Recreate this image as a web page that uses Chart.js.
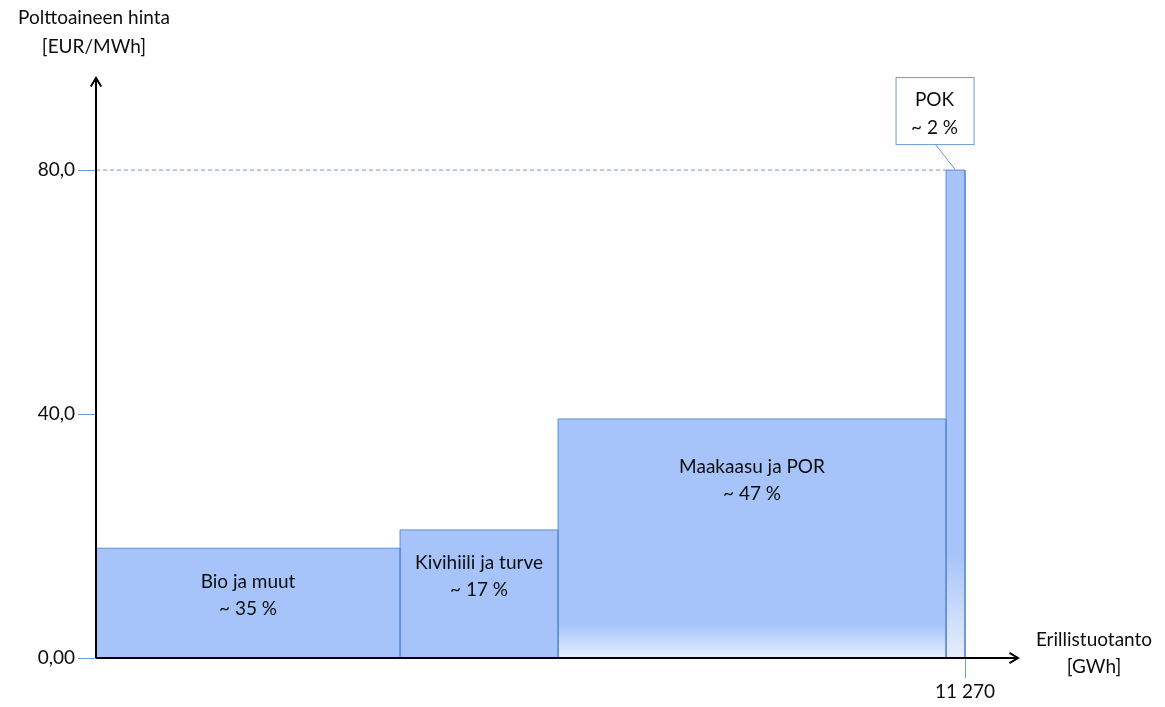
<!DOCTYPE html>
<html>
<head>
<meta charset="utf-8">
<script src="https://cdn.jsdelivr.net/npm/chart.js@4/dist/chart.umd.min.js"></script>
<style>
  html, body { margin: 0; padding: 0; background: #fff; }
  #wrap { width: 1165px; height: 707px; }
</style>
</head>
<body>
<div id="wrap"><canvas id="chart-erillistuotanto"></canvas></div>
<script>
// Polttoaineet hintajärjestyksessä, leveys = tuotanto (GWh, kumulatiivinen)
const blockNames = ['Bio ja muut', 'Kivihiili ja turve', 'Maakaasu ja POR', 'POK'];
const blockShares = ['~ 35 %', '~ 17 %', '~ 47 %', '~ 2 %'];
const blockEnds = [3943, 5992, 11024, 11270];
const blockPrices = [18.0, 21.0, 39.2, 80.0];
// mistä hinnasta alaspäin palkki haalistuu (null = tasainen väri)
const fadeFrom = [null, null, 5.5, 17];

const yTickValues = [0, 40, 80];
const yTickLabels = ['0,00', '40,0', '80,0'];
const xTickValues = [11270];
const xTickLabels = ['11 270'];

const FILL = '#a6c4f9';
const EDGE = '#5f8fd3';
const TEXT = '#0d0d0d';
const FONT = "Lato, 'Open Sans', sans-serif";
const SIZE = 19;

function blockFill(i) {
  return (context) => {
    const chart = context.chart;
    const area = chart.chartArea;
    if (!area || fadeFrom[i] === null) return FILL;
    const y = chart.scales.y;
    const g = chart.ctx.createLinearGradient(0, y.getPixelForValue(fadeFrom[i]), 0, y.getPixelForValue(0));
    g.addColorStop(0, FILL);
    g.addColorStop(1, '#e6eefd');
    return g;
  };
}

const datasets = blockNames.map((name, i) => {
  const start = i ? blockEnds[i - 1] : 0;
  const end = blockEnds[i];
  const p = blockPrices[i];
  return {
    label: name,
    data: [{x: start, y: 0}, {x: start, y: p}, {x: end, y: p}, {x: end, y: 0}],
    showLine: true,
    fill: 'origin',
    borderColor: EDGE,
    borderWidth: 1,
    backgroundColor: blockFill(i),
    pointRadius: 0,
    tension: 0
  };
});

// katkoviiva POK-hinnan tasolle
datasets.push({
  label: 'POK-taso',
  data: [{x: 0, y: blockPrices[3]}, {x: blockEnds[2], y: blockPrices[3]}],
  showLine: true,
  fill: false,
  borderColor: '#6b9ad8',
  borderWidth: 1,
  borderDash: [4, 3],
  pointRadius: 0
});

function arrow(ctx, x0, y0, x1, y1) {
  const a = Math.atan2(y1 - y0, x1 - x0);
  const s = 10;
  ctx.beginPath();
  ctx.moveTo(x0, y0);
  ctx.lineTo(x1, y1);
  ctx.moveTo(x1 - s * Math.cos(a - 0.55), y1 - s * Math.sin(a - 0.55));
  ctx.lineTo(x1, y1);
  ctx.lineTo(x1 - s * Math.cos(a + 0.55), y1 - s * Math.sin(a + 0.55));
  ctx.stroke();
}

const annotations = {
  id: 'annotations',
  afterDatasetsDraw(chart) {
    const {ctx, chartArea: area, scales: {x, y}} = chart;
    ctx.save();

    // akselit nuolineen
    ctx.strokeStyle = '#000';
    ctx.lineWidth = 2;
    ctx.lineCap = 'butt';
    arrow(ctx, area.left, area.bottom, area.left, area.top);
    arrow(ctx, area.left, area.bottom, area.right, area.bottom);

    ctx.fillStyle = TEXT;
    ctx.font = SIZE + 'px ' + FONT;
    ctx.textAlign = 'center';
    ctx.textBaseline = 'middle';

    // akselien otsikot
    ctx.fillText('Polttoaineen hinta', area.left - 2, area.top - 60);
    ctx.fillText('[EUR/MWh]', area.left - 2, area.top - 31);
    ctx.fillText('Erillistuotanto', area.right + 76, area.bottom - 18);
    ctx.fillText('[GWh]', area.right + 76, area.bottom + 9);

    // tekstit palkkien sisällä
    const offsets = [34, 33, 48];
    for (let i = 0; i < 3; i++) {
      const start = i ? blockEnds[i - 1] : 0;
      const cx = (x.getPixelForValue(start) + x.getPixelForValue(blockEnds[i])) / 2;
      const top = y.getPixelForValue(blockPrices[i]);
      ctx.fillText(blockNames[i], cx, top + offsets[i]);
      ctx.fillText(blockShares[i], cx, top + offsets[i] + 27);
    }

    // POK-selite laatikossa
    const tipX = (x.getPixelForValue(blockEnds[2]) + x.getPixelForValue(blockEnds[3])) / 2;
    const tipY = y.getPixelForValue(blockPrices[3]);
    const bx = tipX - 60, by = tipY - 93, bw = 78, bh = 67;
    ctx.fillStyle = '#fff';
    ctx.fillRect(bx, by, bw, bh);
    ctx.strokeStyle = '#6b9ad8';
    ctx.lineWidth = 1;
    ctx.strokeRect(bx + 0.5, by + 0.5, bw, bh);
    ctx.beginPath();
    ctx.moveTo(tipX - 20, by + bh + 0.5);
    ctx.lineTo(tipX, tipY);
    ctx.stroke();
    ctx.fillStyle = TEXT;
    ctx.fillText(blockNames[3], bx + bw / 2, by + 23);
    ctx.fillText(blockShares[3], bx + bw / 2, by + 51);

    ctx.restore();
  }
};

Chart.defaults.font.family = FONT;
Chart.defaults.font.size = SIZE;
Chart.defaults.color = TEXT;

new Chart(document.getElementById('chart-erillistuotanto'), {
  type: 'scatter',
  data: { datasets },
  options: {
    responsive: true,
    maintainAspectRatio: false,
    animation: false,
    layout: { padding: { top: 78, right: 147, left: 0, bottom: 0 } },
    plugins: { legend: { display: false }, tooltip: { enabled: false } },
    scales: {
      x: {
        type: 'linear',
        min: 0,
        max: 11957,
        afterBuildTicks: (axis) => { axis.ticks = xTickValues.map(v => ({value: v})); },
        afterFit: (axis) => { axis.height = 49; },
        ticks: {
          autoSkip: false,
          maxRotation: 0,
          padding: 2,
          callback: (v) => xTickLabels[xTickValues.indexOf(v)]
        },
        grid: { drawOnChartArea: false, tickLength: 20, tickColor: '#6b9ad8', tickWidth: 1 },
        border: { display: false }
      },
      y: {
        min: 0,
        max: 95.1,
        afterBuildTicks: (axis) => { axis.ticks = yTickValues.map(v => ({value: v})); },
        afterFit: (axis) => { axis.width = 96; },
        ticks: {
          padding: 3,
          callback: (v) => yTickLabels[yTickValues.indexOf(v)]
        },
        grid: { drawOnChartArea: false, tickLength: 18, tickColor: '#6b9ad8', tickWidth: 1 },
        border: { display: false }
      }
    }
  },
  plugins: [annotations]
});
</script>
</body>
</html>
